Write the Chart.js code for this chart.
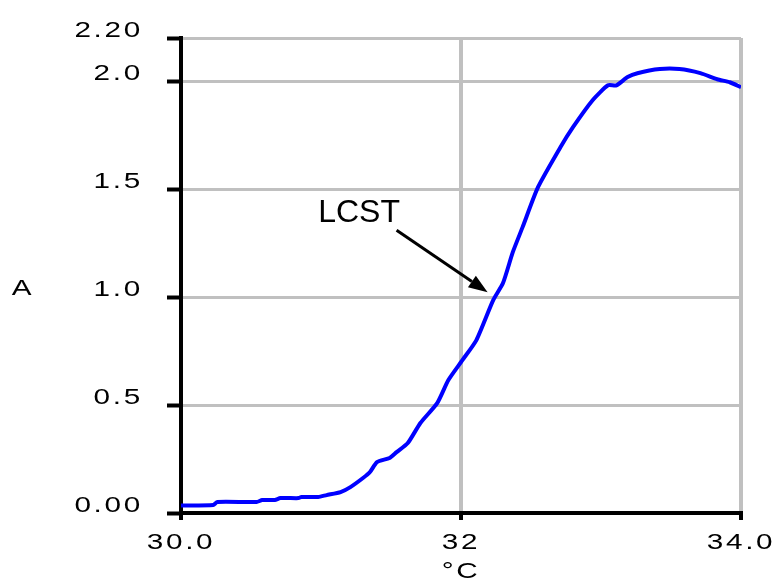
<!DOCTYPE html>
<html>
<head>
<meta charset="utf-8">
<title>LCST</title>
<script src="https://cdn.jsdelivr.net/npm/chart.js@4.4.0/dist/chart.umd.min.js"></script>
<style>
  html, body { margin: 0; padding: 0; background: #fff; }
  canvas { display: block; }
</style>
</head>
<body>
<canvas id="lcstChart" width="781" height="581"></canvas>
<script>
// Temperature (°C) and absorbance
const temperatures = [30.00, 30.23, 30.26, 30.54, 30.58, 30.67, 30.71, 30.84, 30.86, 30.98,
    31.04, 31.14, 31.21, 31.30, 31.35, 31.40, 31.49, 31.54, 31.62, 31.71,
    31.83, 31.91, 32.01, 32.11, 32.23, 32.30, 32.37, 32.44, 32.55, 32.71,
    32.80, 32.94, 33.05, 33.11, 33.19, 33.26, 33.42, 33.56, 33.71, 33.83,
    33.92, 34.00];
const absorbance = [0.035, 0.037, 0.051, 0.051, 0.060, 0.060, 0.069, 0.069, 0.074, 0.074,
    0.083, 0.097, 0.120, 0.162, 0.190, 0.236, 0.255, 0.282, 0.324, 0.417,
    0.509, 0.616, 0.708, 0.801, 0.986, 1.065, 1.208, 1.324, 1.509, 1.694,
    1.787, 1.912, 1.981, 1.981, 2.019, 2.037, 2.056, 2.056, 2.037, 2.009,
    1.995, 1.972];

// Axis ticks (labels are formatted unevenly in the original)
const xTicks = [30, 32, 34];
const xTickLabels = ['30.0', '32', '34.0'];
const yTicks = [0, 0.5, 1, 1.5, 2, 2.2];
const yTickLabels = ['0.00', '0.5', '1.0', '1.5', '2.0', '2.20'];

// Annotation, in data units
const lcstText = 'LCST';
const lcstTextAt = [30.98, 1.39];
const arrowFrom = [31.54, 1.31];
const arrowTo = [32.19, 1.023];

const FONT = "'Liberation Sans', Arial, sans-serif";
const STRETCH = 1.35;   // axis text in the original is drawn wide

Chart.defaults.font.family = FONT;
Chart.defaults.font.size = 22;
Chart.defaults.color = '#000';

// draw (and measure) text horizontally stretched while ctx.wide is set
function makeWide(ctx) {
    const fill = ctx.fillText.bind(ctx);
    const measure = ctx.measureText.bind(ctx);
    ctx.wide = true;
    ctx.fillText = function(text, x, y) {
        if (!ctx.wide) return fill(text, x, y);
        ctx.save();
        ctx.translate(x, y);
        ctx.scale(STRETCH, 1);
        fill(text, 0, 0);
        ctx.restore();
    };
    ctx.measureText = function(text) {
        const m = measure(text);
        if (!ctx.wide) return m;
        return {
            width: m.width * STRETCH,
            actualBoundingBoxAscent: m.actualBoundingBoxAscent,
            actualBoundingBoxDescent: m.actualBoundingBoxDescent
        };
    };
}

const spacingPlugin = {
    id: 'spacing',
    beforeLayout(chart) { chart.ctx.letterSpacing = '2px'; chart.ctx.wide = true; },
    beforeDraw(chart) { chart.ctx.letterSpacing = '2px'; chart.ctx.wide = true; }
};

// y title sits horizontally left of the axis, plus the LCST arrow
const extrasPlugin = {
    id: 'extras',
    afterDraw(chart) {
        const ctx = chart.ctx;
        const xs = chart.scales.x;
        const ys = chart.scales.y;
        ctx.save();
        ctx.fillStyle = '#000';
        ctx.strokeStyle = '#000';

        ctx.font = '22px ' + FONT;
        ctx.textAlign = 'center';
        ctx.textBaseline = 'middle';
        ctx.fillText('A', 23, 289);

        ctx.wide = false;
        ctx.letterSpacing = '0px';
        ctx.font = '32px ' + FONT;
        ctx.textAlign = 'left';
        ctx.fillText(lcstText, xs.getPixelForValue(lcstTextAt[0]), ys.getPixelForValue(lcstTextAt[1]));

        const x1 = xs.getPixelForValue(arrowFrom[0]), y1 = ys.getPixelForValue(arrowFrom[1]);
        const x2 = xs.getPixelForValue(arrowTo[0]), y2 = ys.getPixelForValue(arrowTo[1]);
        const ang = Math.atan2(y2 - y1, x2 - x1);
        const headLen = 19, headHalf = 7;
        const bx = x2 - headLen * Math.cos(ang), by = y2 - headLen * Math.sin(ang);
        ctx.lineWidth = 3;
        ctx.beginPath();
        ctx.moveTo(x1, y1);
        ctx.lineTo(bx, by);
        ctx.stroke();
        ctx.beginPath();
        ctx.moveTo(x2, y2);
        ctx.lineTo(bx + headHalf * Math.sin(ang), by - headHalf * Math.cos(ang));
        ctx.lineTo(bx - headHalf * Math.sin(ang), by + headHalf * Math.cos(ang));
        ctx.closePath();
        ctx.fill();
        ctx.restore();
        ctx.wide = true;
    }
};

document.addEventListener('DOMContentLoaded', function() {
    const canvas = document.getElementById('lcstChart');
    makeWide(canvas.getContext('2d'));

    new Chart(canvas, {
        type: 'line',
        data: {
            datasets: [{
                data: temperatures.map((t, i) => ({ x: t, y: absorbance[i] })),
                borderColor: '#0000ff',
                borderWidth: 4,
                pointRadius: 0,
                tension: 0.2,
                fill: false
            }]
        },
        options: {
            responsive: false,
            animation: false,
            layout: { padding: { left: 0, right: 40, top: 38, bottom: 0 } },
            plugins: {
                legend: { display: false },
                tooltip: { enabled: false }
            },
            scales: {
                x: {
                    type: 'linear',
                    min: 30,
                    max: 34,
                    afterBuildTicks: scale => { scale.ticks = xTicks.map(v => ({ value: v })); },
                    afterFit: scale => {
                        scale.height = 68;
                        scale.paddingLeft = 0;
                        scale.paddingRight = 0;
                    },
                    ticks: {
                        padding: 10,
                        maxRotation: 0,
                        callback: (value) => xTickLabels[xTicks.indexOf(value)]
                    },
                    grid: {
                        color: '#c0c0c0',
                        lineWidth: 4,
                        tickColor: '#000',
                        tickLength: 7,
                        tickWidth: 4
                    },
                    border: { color: '#000', width: 4 },
                    title: {
                        display: true,
                        text: '°C',
                        font: { size: 22, lineHeight: 1 },
                        padding: { top: 0, bottom: -2 }
                    }
                },
                y: {
                    min: 0,
                    max: 2.2,
                    afterBuildTicks: scale => { scale.ticks = yTicks.map(v => ({ value: v })); },
                    afterFit: scale => {
                        scale.width = 181;
                        scale.paddingTop = 0;
                        scale.paddingBottom = 0;
                    },
                    ticks: {
                        padding: 24,
                        labelOffset: -7,
                        callback: (value) => yTickLabels[yTicks.indexOf(value)]
                    },
                    grid: {
                        color: '#c0c0c0',
                        lineWidth: 3,
                        tickColor: '#000',
                        tickLength: 14,
                        tickWidth: 4
                    },
                    border: { color: '#000', width: 4 }
                }
            }
        },
        plugins: [spacingPlugin, extrasPlugin]
    });
});
</script>
</body>
</html>
